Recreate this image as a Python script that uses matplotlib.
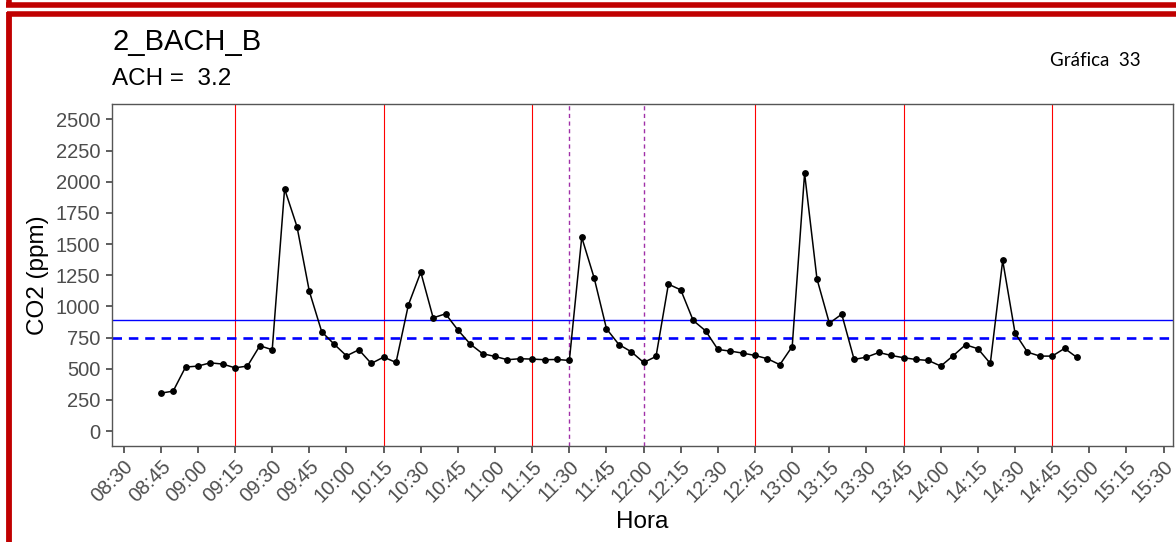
import matplotlib
matplotlib.use("Agg")
import matplotlib.pyplot as plt
from matplotlib.lines import Line2D

# ---------------- data ----------------
times = ["08:45", "08:50", "08:55", "09:00", "09:05", "09:10", "09:15", "09:20", "09:25", "09:30",
         "09:35", "09:40", "09:45", "09:50", "09:55", "10:00", "10:05", "10:10", "10:15", "10:20",
         "10:25", "10:30", "10:35", "10:40", "10:45", "10:50", "10:55", "11:00", "11:05", "11:10",
         "11:15", "11:20", "11:25", "11:30", "11:35", "11:40", "11:45", "11:50", "11:55", "12:00",
         "12:05", "12:10", "12:15", "12:20", "12:25", "12:30", "12:35", "12:40", "12:45", "12:50",
         "12:55", "13:00", "13:05", "13:10", "13:15", "13:20", "13:25", "13:30", "13:35", "13:40",
         "13:45", "13:50", "13:55", "14:00", "14:05", "14:10", "14:15", "14:20", "14:25", "14:30",
         "14:35", "14:40", "14:45", "14:50", "14:55"]
co2 = [304, 320, 513, 521, 547, 537, 507, 521, 684, 652,
       1942, 1640, 1120, 796, 697, 603, 652, 542, 593, 550,
       1012, 1274, 908, 940, 810, 697, 620, 598, 572, 580,
       577, 572, 574, 566, 1554, 1229, 820, 694, 636, 550,
       598, 1178, 1132, 887, 804, 654, 641, 625, 606, 580,
       532, 678, 2067, 1220, 865, 937, 574, 593, 630, 606,
       588, 574, 566, 521, 604, 692, 660, 542, 1368, 785,
       633, 601, 601, 663, 590]

red_lines = ["09:15", "10:15", "11:15", "12:45", "13:45", "14:45"]
purple_lines = ["11:30", "12:00"]
limit_solid = 890
limit_dashed = 748

xtick_labels = ["08:30", "08:45", "09:00", "09:15", "09:30", "09:45", "10:00", "10:15", "10:30",
                "10:45", "11:00", "11:15", "11:30", "11:45", "12:00", "12:15", "12:30", "12:45",
                "13:00", "13:15", "13:30", "13:45", "14:00", "14:15", "14:30", "14:45", "15:00",
                "15:15", "15:30"]
ytick_values = [0, 250, 500, 750, 1000, 1250, 1500, 1750, 2000, 2250, 2500]

title = "2_BACH_B"
subtitle = "ACH =  3.2"
tag = "Gráfica  33"


def to_min(s):
    h, m = s.split(":")
    return int(h) * 60 + int(m)


W, H = 1176, 542
fig = plt.figure(figsize=(W / 100, H / 100), dpi=100)
fig.patch.set_facecolor("white")


def fx(x):
    return x / W


def fy(y):
    return 1 - y / H


ax_l, ax_r, ax_t, ax_b = 112, 1173.3, 104, 445.5
ax = fig.add_axes([fx(ax_l), fy(ax_b), fx(ax_r - ax_l), (ax_b - ax_t) / H])

x = [to_min(t) for t in times]

for t in red_lines:
    ax.axvline(to_min(t), color="#FF0000", lw=0.8, zorder=1)
for t in purple_lines:
    ax.axvline(to_min(t), color="#A030A8", lw=1.0, ls=(0, (3, 2.5)), zorder=1)
ax.axhline(limit_solid, color="#0000FF", lw=1.0, zorder=1)
ax.axhline(limit_dashed, color="#0000FF", lw=1.9, ls=(0, (3.6, 2.6)), zorder=1)

ax.plot(x, co2, color="black", lw=1.1, marker="o", ms=3.9, zorder=3)

ax.set_xlim(505.3, 933.9)
ax.set_ylim(-116, 2623)
ax.set_xticks([to_min(t) for t in xtick_labels])
ax.set_xticklabels(xtick_labels, rotation=45, ha="right", va="top", rotation_mode="anchor",
                   fontsize=14.5, color="#4D4D4D", family="Liberation Sans")
ax.set_yticks(ytick_values)
ax.set_yticklabels([str(v) for v in ytick_values], fontsize=14.5, color="#4D4D4D",
                   family="Liberation Sans")
ax.tick_params(axis="x", length=5, width=1.1, color="#333333", pad=3)
ax.tick_params(axis="y", length=4, width=1.1, color="#333333", pad=4.5)
for s in ax.spines.values():
    s.set_color("#555555")
    s.set_linewidth(1.0)

ax.set_xlabel("Hora", fontsize=17.5, family="Liberation Sans", color="black", labelpad=4)
ax.set_ylabel("CO2 (ppm)", fontsize=17.5, family="Liberation Sans", color="black", labelpad=5)

# titles
fig.text(fx(112), fy(50), title, fontsize=21, family="Liberation Sans", ha="left",
         va="baseline")
fig.text(fx(112), fy(85), subtitle, fontsize=17.5, family="Liberation Sans", ha="left",
         va="baseline")
fig.text(fx(1050), fy(65.5), tag, fontsize=13.5, family="Lato", ha="left", va="baseline")

# red page frames
red = "#C00000"
fig.add_artist(Line2D([fx(6), fx(W + 10)], [fy(4.5), fy(4.5)], color=red, lw=4.0,
                      transform=fig.transFigure, solid_capstyle="butt"))
fig.add_artist(Line2D([fx(9), fx(9)], [fy(-10), fy(4.5)], color=red, lw=4.0,
                      transform=fig.transFigure, solid_capstyle="butt"))
fig.add_artist(Line2D([fx(6.5), fx(W + 10)], [fy(13.8), fy(13.8)], color=red, lw=4.0,
                      transform=fig.transFigure, solid_capstyle="butt"))
fig.add_artist(Line2D([fx(9), fx(9)], [fy(11.5), fy(H + 10)], color=red, lw=4.2,
                      transform=fig.transFigure, solid_capstyle="butt"))

fig.savefig("out.png", dpi=100, facecolor="white")
